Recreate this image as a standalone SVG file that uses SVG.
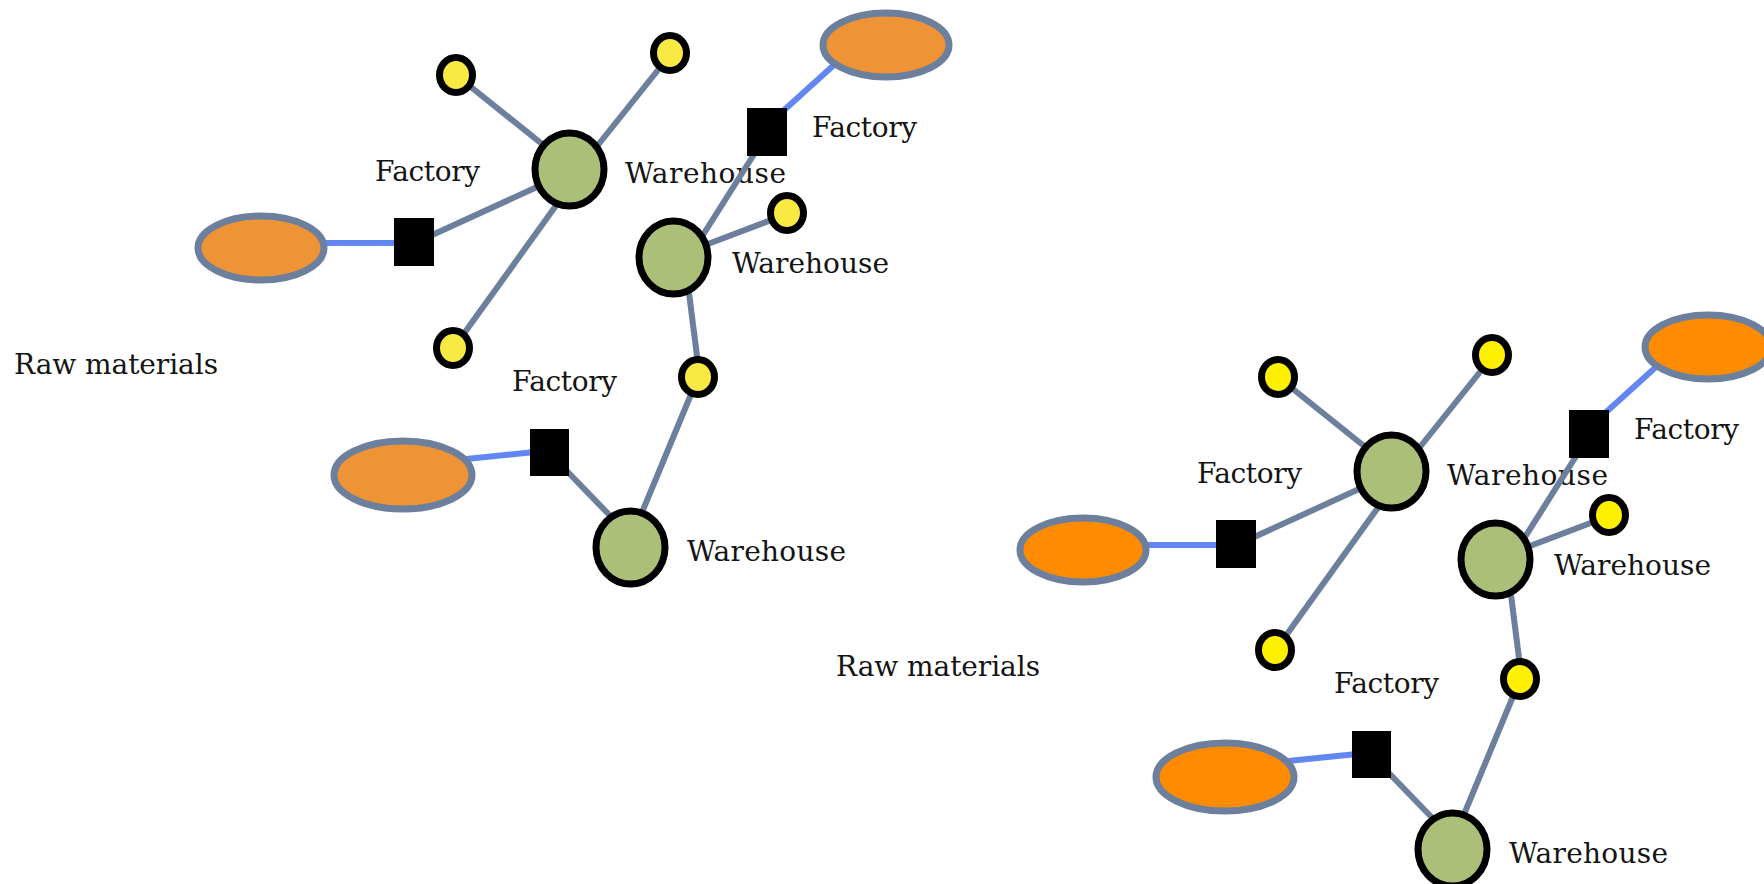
<svg xmlns="http://www.w3.org/2000/svg" width="1764" height="884" viewBox="0 0 1764 884">
<style>
.bg{fill:#ffffff}
.lbl{font-family:"DejaVu Serif","Liberation Serif",serif;font-size:28px;fill:#141414}
.edge{stroke:#6c7f9d;stroke-width:6;fill:none}
.supply{stroke:#6287f2;stroke-width:6;fill:none}
.raw{stroke:#6c7f9d;stroke-width:7}
.c1 .raw{fill:#ef9436}
.c2 .raw{fill:#ff8c00}
.fac{fill:#000000}
.wh{fill:#abbf79;stroke:#000000;stroke-width:7}
.pt{stroke:#000000;stroke-width:7}
.c1 .pt{fill:#f8e943}
.c2 .pt{fill:#fff000}
</style>
<rect class="bg" x="0" y="0" width="1764" height="884"/>

<g id="cluster-1" class="c1">
  <g id="c1-labels">
    <text class="lbl" x="14" y="374" textLength="204">Raw materials</text>
    <text class="lbl" x="375" y="181" textLength="105">Factory</text>
    <text class="lbl" x="625" y="183" textLength="161">Warehouse</text>
    <text class="lbl" x="812" y="137" textLength="105">Factory</text>
    <text class="lbl" x="732" y="273" textLength="157">Warehouse</text>
    <text class="lbl" x="512" y="391" textLength="105">Factory</text>
    <text class="lbl" x="687" y="561" textLength="159">Warehouse</text>
  </g>
  <g id="c1-connectors">
    <line class="supply" x1="320" y1="243" x2="400" y2="243"/>
    <line class="edge" x1="430" y1="236" x2="548" y2="182"/>
    <line class="edge" x1="456" y1="75" x2="552" y2="152"/>
    <line class="edge" x1="594" y1="150" x2="670" y2="55"/>
    <line class="edge" x1="560" y1="200" x2="455" y2="346"/>
    <line class="supply" x1="782" y1="112" x2="845" y2="55"/>
    <line class="edge" x1="758" y1="148" x2="696" y2="246"/>
    <line class="edge" x1="700" y1="247" x2="787" y2="214"/>
    <line class="edge" x1="688" y1="285" x2="699" y2="372"/>
    <line class="edge" x1="697" y1="380" x2="638" y2="522"/>
    <line class="supply" x1="466" y1="459" x2="535" y2="452"/>
    <line class="edge" x1="562" y1="466" x2="622" y2="528"/>
  </g>
  <g id="c1-raw-1"><ellipse class="raw" cx="261" cy="248" rx="63" ry="32"/></g>
  <g id="c1-raw-2"><ellipse class="raw" cx="886" cy="45" rx="63" ry="32"/></g>
  <g id="c1-raw-3"><ellipse class="raw" cx="403" cy="475" rx="69" ry="34"/></g>
  <g id="c1-factory-1"><rect class="fac" x="394" y="218" width="40" height="48"/></g>
  <g id="c1-factory-2"><rect class="fac" x="747" y="108" width="40" height="48"/></g>
  <g id="c1-factory-3"><rect class="fac" x="530" y="429" width="39" height="47"/></g>
  <g id="c1-warehouse-1"><ellipse class="wh" cx="569.5" cy="169.5" rx="34.5" ry="36.5"/></g>
  <g id="c1-warehouse-2"><ellipse class="wh" cx="673.5" cy="257.5" rx="34.5" ry="36.5"/></g>
  <g id="c1-warehouse-3"><ellipse class="wh" cx="630.5" cy="547.5" rx="34.5" ry="36.5"/></g>
  <g id="c1-point-1"><ellipse class="pt" cx="456" cy="75" rx="16.5" ry="17.5"/></g>
  <g id="c1-point-2"><ellipse class="pt" cx="670" cy="53" rx="16.5" ry="17.5"/></g>
  <g id="c1-point-3"><ellipse class="pt" cx="453" cy="348" rx="16.5" ry="17.5"/></g>
  <g id="c1-point-4"><ellipse class="pt" cx="787" cy="213" rx="16.5" ry="17.5"/></g>
  <g id="c1-point-5"><ellipse class="pt" cx="698" cy="377" rx="16.5" ry="17.5"/></g>
</g>

<g id="cluster-2" class="c2" transform="translate(822,302)">
  <g id="c2-labels">
    <text class="lbl" x="14" y="374" textLength="204">Raw materials</text>
    <text class="lbl" x="375" y="181" textLength="105">Factory</text>
    <text class="lbl" x="625" y="183" textLength="161">Warehouse</text>
    <text class="lbl" x="812" y="137" textLength="105">Factory</text>
    <text class="lbl" x="732" y="273" textLength="157">Warehouse</text>
    <text class="lbl" x="512" y="391" textLength="105">Factory</text>
    <text class="lbl" x="687" y="561" textLength="159">Warehouse</text>
  </g>
  <g id="c2-connectors">
    <line class="supply" x1="320" y1="243" x2="400" y2="243"/>
    <line class="edge" x1="430" y1="236" x2="548" y2="182"/>
    <line class="edge" x1="456" y1="75" x2="552" y2="152"/>
    <line class="edge" x1="594" y1="150" x2="670" y2="55"/>
    <line class="edge" x1="560" y1="200" x2="455" y2="346"/>
    <line class="supply" x1="782" y1="112" x2="845" y2="55"/>
    <line class="edge" x1="758" y1="148" x2="696" y2="246"/>
    <line class="edge" x1="700" y1="247" x2="787" y2="214"/>
    <line class="edge" x1="688" y1="285" x2="699" y2="372"/>
    <line class="edge" x1="697" y1="380" x2="638" y2="522"/>
    <line class="supply" x1="466" y1="459" x2="535" y2="452"/>
    <line class="edge" x1="562" y1="466" x2="622" y2="528"/>
  </g>
  <g id="c2-raw-1"><ellipse class="raw" cx="261" cy="248" rx="63" ry="32"/></g>
  <g id="c2-raw-2"><ellipse class="raw" cx="886" cy="45" rx="63" ry="32"/></g>
  <g id="c2-raw-3"><ellipse class="raw" cx="403" cy="475" rx="69" ry="34"/></g>
  <g id="c2-factory-1"><rect class="fac" x="394" y="218" width="40" height="48"/></g>
  <g id="c2-factory-2"><rect class="fac" x="747" y="108" width="40" height="48"/></g>
  <g id="c2-factory-3"><rect class="fac" x="530" y="429" width="39" height="47"/></g>
  <g id="c2-warehouse-1"><ellipse class="wh" cx="569.5" cy="169.5" rx="34.5" ry="36.5"/></g>
  <g id="c2-warehouse-2"><ellipse class="wh" cx="673.5" cy="257.5" rx="34.5" ry="36.5"/></g>
  <g id="c2-warehouse-3"><ellipse class="wh" cx="630.5" cy="547.5" rx="34.5" ry="36.5"/></g>
  <g id="c2-point-1"><ellipse class="pt" cx="456" cy="75" rx="16.5" ry="17.5"/></g>
  <g id="c2-point-2"><ellipse class="pt" cx="670" cy="53" rx="16.5" ry="17.5"/></g>
  <g id="c2-point-3"><ellipse class="pt" cx="453" cy="348" rx="16.5" ry="17.5"/></g>
  <g id="c2-point-4"><ellipse class="pt" cx="787" cy="213" rx="16.5" ry="17.5"/></g>
  <g id="c2-point-5"><ellipse class="pt" cx="698" cy="377" rx="16.5" ry="17.5"/></g>
</g>
</svg>
